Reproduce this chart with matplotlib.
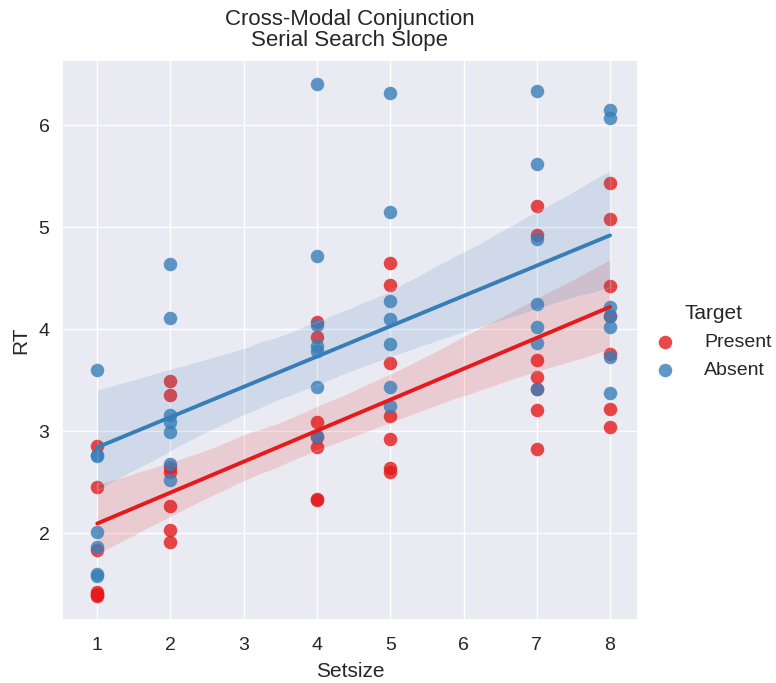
import numpy as np
import pandas as pd
import matplotlib
matplotlib.use("Agg")
import matplotlib.pyplot as plt
import seaborn as sns

setsizes = [1, 2, 4, 5, 7, 8]

# RT values, per setsize
present_rt = {
    1: [2.86, 2.46, 1.84, 1.43, 1.41, 1.40, 1.39],
    2: [3.49, 3.36, 2.65, 2.60, 2.27, 2.03, 1.92],
    4: [4.07, 3.93, 3.09, 2.95, 2.85, 2.34, 2.33],
    5: [4.65, 4.44, 3.67, 3.15, 2.93, 2.64, 2.60],
    7: [5.21, 4.93, 3.70, 3.53, 3.42, 3.21, 2.83],
    8: [5.44, 5.08, 4.43, 4.13, 3.76, 3.22, 3.04],
}
absent_rt = {
    1: [3.60, 2.77, 2.76, 2.01, 1.87, 1.60, 1.58],
    2: [4.64, 4.11, 3.16, 3.09, 2.99, 2.68, 2.52],
    4: [6.41, 4.72, 4.04, 3.84, 3.79, 3.44, 2.96],
    5: [6.32, 5.15, 4.28, 4.10, 3.86, 3.44, 3.25],
    7: [6.34, 5.62, 4.89, 4.25, 4.02, 3.87, 3.42],
    8: [6.15, 6.07, 4.22, 4.13, 4.02, 3.73, 3.38],
}
targets = ["Present", "Absent"]

rows = []
for t, d in zip(targets, [present_rt, absent_rt]):
    for s in setsizes:
        for v in d[s]:
            rows.append({"Setsize": s, "RT": v, "Target": t})
df = pd.DataFrame(rows)

sns.set_theme(style="darkgrid")
plt.rcParams["font.family"] = ["Liberation Sans", "DejaVu Sans"]

colors = sns.color_palette("Set1", 2)

fig = plt.figure(figsize=(7.76, 6.83), dpi=100)
ax = fig.add_axes([0.080, 0.092, 0.742, 0.82])

for t, c in zip(targets, colors):
    sub = df[df["Target"] == t]
    sns.regplot(data=sub, x="Setsize", y="RT", ax=ax, color=c, label=t,
                seed=0, truncate=True,
                scatter_kws={"s": 95, "alpha": 0.8, "linewidths": 0},
                line_kws={"lw": 2.8})

ax.set_xlim(0.52, 8.38)
ax.set_ylim(1.15, 6.64)
ax.set_xticks(range(1, 9))
ax.set_yticks([2, 3, 4, 5, 6])
ax.tick_params(axis="x", labelsize=14, pad=6)
ax.tick_params(axis="y", labelsize=14, pad=3)
ax.set_xlabel("Setsize", fontsize=15, labelpad=6)
ax.set_ylabel("RT", fontsize=15, labelpad=6)
ax.set_title("Cross-Modal Conjunction\nSerial Search Slope", fontsize=16,
             linespacing=1.0, pad=10)

handles, labels = ax.get_legend_handles_labels()
leg = fig.legend(handles[:2], labels[:2], title="Target", loc="center left",
                 bbox_to_anchor=(0.835, 0.5), frameon=False, fontsize=14,
                 title_fontsize=15, handlelength=1.0, handletextpad=1.5,
                 labelspacing=0.55, borderaxespad=0)

fig.savefig("out.png", dpi=100)
